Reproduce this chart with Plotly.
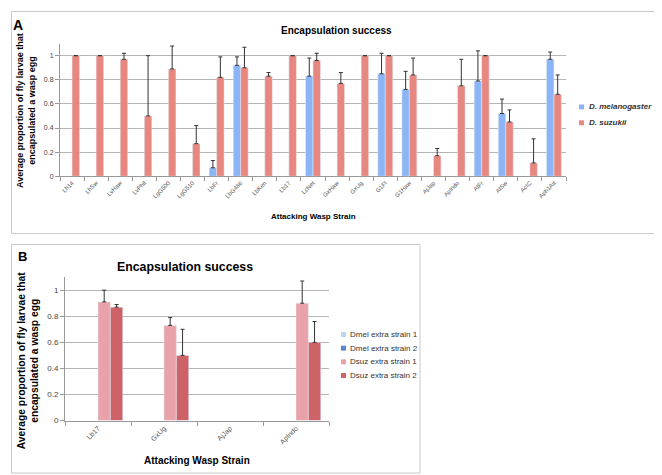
import plotly.graph_objects as go

W, H = 662, 475

# ---------------- Panel A data ----------------
strains_a = ["Lh14", "LhSw", "LvHaw", "LvPhil", "LgG500", "LgG510", "LbFr", "LbG486",
             "LbKen", "Lb17", "LcNet", "GxHaw", "GxUg", "G1FI", "G1Haw", "AjJap",
             "ApIndo", "AtFr", "AtSw", "AcIC", "Aph1Ait"]
dmel_vals = [None, None, None, None, None, None, 0.07, 0.92,
             None, None, 0.83, None, None, 0.85, 0.72, None,
             None, 0.79, 0.52, None, 0.97]
dmel_err = [0, 0, 0, 0, 0, 0, 0.06, 0.07,
            0, 0, 0.15, 0, 0, 0.17, 0.15, 0,
            0, 0.25, 0.12, 0, 0.06]
dsuz_vals = [1.0, 1.0, 0.97, 0.50, 0.89, 0.27, 0.82, 0.90,
             0.83, 1.0, 0.96, 0.77, 1.0, 1.0, 0.84, 0.17,
             0.75, 1.0, 0.45, 0.11, 0.68]
dsuz_err = [0.0, 0.0, 0.05, 0.50, 0.19, 0.15, 0.17, 0.17,
            0.03, 0.0, 0.06, 0.09, 0.0, 0.0, 0.14, 0.06,
            0.22, 0.0, 0.10, 0.20, 0.16]
series_a = ["D. melanogaster", "D. suzukii"]

# ---------------- Panel B data ----------------
strains_b = ["Lb17", "GxUg", "AjJap", "ApIndo"]
dmel1_b = [None, None, None, None]
dmel2_b = [None, None, None, None]
dsuz1_b = [0.91, 0.73, None, 0.90]
dsuz1_err = [0.09, 0.06, 0, 0.17]
dsuz2_b = [0.87, 0.50, None, 0.60]
dsuz2_err = [0.02, 0.20, 0, 0.16]
series_b = ["Dmel extra strain 1", "Dmel extra strain 2", "Dsuz extra strain 1", "Dsuz extra strain 2"]

BLUE = "#8cb5f5"
RED = "#e8877f"
C_B = ["#bcd5f0", "#5b86c9", "#e9a2aa", "#cd6369"]

FONT = "Liberation Sans, Arial, sans-serif"


def px_x(p):
    return p / W


def px_y(p):
    return 1 - p / H


def err(arr):
    return dict(type="data", array=arr, arrayminus=[0] * len(arr), symmetric=False,
                color="#333333", thickness=1, width=2)


fig = go.Figure()

fig.add_trace(go.Bar(x=strains_a, y=dmel_vals, name=series_a[0], marker_color=BLUE,
                     error_y=err(dmel_err), xaxis="x", yaxis="y", showlegend=False))
fig.add_trace(go.Bar(x=strains_a, y=dsuz_vals, name=series_a[1], marker_color=RED,
                     error_y=err(dsuz_err), xaxis="x", yaxis="y", showlegend=False))

vals_b = [dmel1_b, dmel2_b, dsuz1_b, dsuz2_b]
errs_b = [[0] * 4, [0] * 4, dsuz1_err, dsuz2_err]
bw = 0.75 / 4
for i, (nm, v, e, c) in enumerate(zip(series_b, vals_b, errs_b, C_B)):
    fig.add_trace(go.Bar(x=strains_b, y=v, name=nm, marker_color=c,
                         width=bw, offset=-0.375 + i * bw, offsetgroup=str(i + 10),
                         error_y=err(e), xaxis="x2", yaxis="y2", showlegend=False))

grid = "#b5b5b5"
common_x = dict(type="category", showline=True, linecolor="#999999", ticks="outside",
                tickson="boundaries", ticklen=4, tickcolor="#999999", tickangle=-45,
                showgrid=False, tickfont=dict(family=FONT, color="#555555"))
common_y = dict(range=[0, 1.1], tickvals=[0, 0.2, 0.4, 0.6, 0.8, 1],
                ticktext=["0", "0.2", "0.4", "0.6", "0.8", "1"],
                showline=True, linecolor="#999999", ticks="outside", ticklen=4,
                tickcolor="#999999", showgrid=True, gridcolor=grid, gridwidth=1,
                zeroline=False, tickfont=dict(family=FONT, color="#444444"))

fig.update_layout(
    width=W, height=H,
    margin=dict(l=0, r=0, t=0, b=0),
    paper_bgcolor="white", plot_bgcolor="white",
    barmode="group",
    bargap=0.38,
    font=dict(family=FONT),
    showlegend=False,
    xaxis=dict(domain=[px_x(52), px_x(558)], anchor="y", **common_x),
    yaxis=dict(domain=[px_y(170), px_y(36)], anchor="x", **common_y),
    xaxis2=dict(domain=[px_x(57), px_x(321)], anchor="y2", **common_x),
    yaxis2=dict(domain=[px_y(417), px_y(272)], anchor="x2", **common_y),
)
fig.update_xaxes(tickfont_size=6, selector=dict(anchor="y"))
fig.update_yaxes(tickfont_size=7, selector=dict(anchor="x"))
fig.update_xaxes(tickfont_size=7, selector=dict(anchor="y2"))
fig.update_yaxes(tickfont_size=8, selector=dict(anchor="x2"))

shapes = []
# frames
shapes.append(dict(type="rect", x0=px_x(3.5), x1=px_x(658), y0=px_y(228), y1=px_y(3.5),
                   line=dict(color="#c8c8c8", width=1)))
shapes.append(dict(type="rect", x0=px_x(3.5), x1=px_x(412), y0=px_y(470), y1=px_y(239),
                   line=dict(color="#c8c8c8", width=1)))

ann = []
# legend A (manual, Excel-like compact)
for i, (nm, c) in enumerate(zip(series_a, [BLUE, RED])):
    yc = 100 + i * 16
    shapes.append(dict(type="rect", x0=px_x(571), x1=px_x(576), y0=px_y(yc + 2.5), y1=px_y(yc - 2.5),
                       fillcolor=c, line=dict(width=0)))
    ann.append(dict(text="<b><i>" + nm + "</i></b>", x=px_x(579), y=px_y(yc), xanchor="left",
                    font=dict(size=8, color="#333333")))
# legend B
for i, (nm, c) in enumerate(zip(series_b, C_B)):
    yc = 330 + i * 13.8
    shapes.append(dict(type="rect", x0=px_x(333), x1=px_x(338), y0=px_y(yc + 2.5), y1=px_y(yc - 2.5),
                       fillcolor=c, line=dict(width=0)))
    ann.append(dict(text=nm, x=px_x(339.5), y=px_y(yc), xanchor="left",
                    font=dict(size=8, color="#333333")))
for s in shapes:
    s.update(xref="paper", yref="paper")
fig.update_layout(shapes=shapes)

ann.append(dict(text="<b>A</b>", x=px_x(10), y=px_y(17), font=dict(size=14, color="black")))
ann.append(dict(text="<b>Encapsulation success</b>", x=px_x(328), y=px_y(23), font=dict(size=10, color="black")))
ann.append(dict(text="<b>Attacking Wasp Strain</b>", x=px_x(305), y=px_y(211), font=dict(size=8, color="black")))
ann.append(dict(text="<b>Average proportion of fly larvae that<br>encapsulated a wasp egg</b>",
                x=px_x(18), y=px_y(104), textangle=-90, font=dict(size=9, color="black")))
ann.append(dict(text="<b>B</b>", x=px_x(14), y=px_y(251), font=dict(size=13, color="black")))
ann.append(dict(text="<b>Encapsulation success</b>", x=px_x(177), y=px_y(262), font=dict(size=12.3, color="black")))
ann.append(dict(text="<b>Attacking Wasp Strain</b>", x=px_x(189), y=px_y(457), font=dict(size=10, color="black")))
ann.append(dict(text="<b>Average proportion of fly larvae that<br>encapsulated a wasp egg</b>",
                x=px_x(20), y=px_y(356), textangle=-90, font=dict(size=10.3, color="black")))
for a in ann:
    a.setdefault("xanchor", "center")
    a.update(xref="paper", yref="paper", showarrow=False, yanchor="middle")
    a["font"]["family"] = FONT
fig.update_layout(annotations=ann)

fig.write_html("out.html")
